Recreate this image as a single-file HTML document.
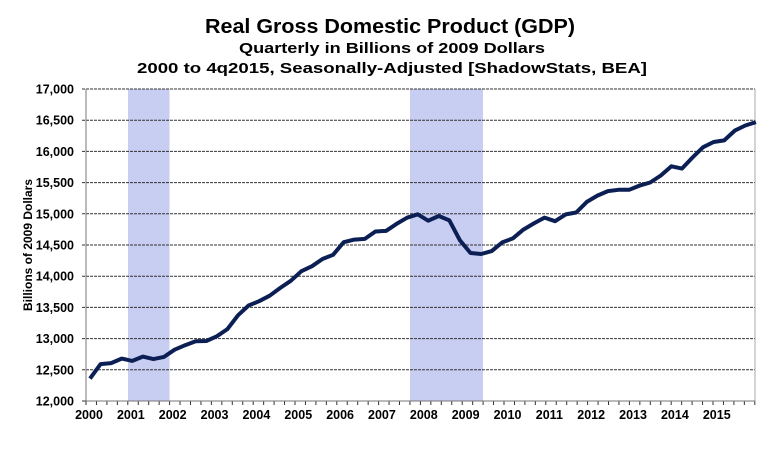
<!DOCTYPE html>
<html><head><meta charset="utf-8"><style>
body{margin:0;background:#fff;}
svg text{font-family:"Liberation Sans",Arial,sans-serif;font-weight:bold;fill:#000;}
</style></head><body>
<svg id="s" width="781" height="454" xmlns="http://www.w3.org/2000/svg">
<text x="390" y="33" font-size="20" text-anchor="middle" textLength="370" lengthAdjust="spacingAndGlyphs">Real Gross Domestic Product (GDP)</text>
<text x="392" y="53" font-size="15" text-anchor="middle" textLength="306" lengthAdjust="spacingAndGlyphs">Quarterly in Billions of 2009 Dollars</text>
<text x="392" y="73" font-size="15" text-anchor="middle" textLength="510" lengthAdjust="spacingAndGlyphs">2000 to 4q2015, Seasonally-Adjusted [ShadowStats, BEA]</text>
<rect x="128" y="89" width="41.5" height="312" fill="#c8cdf2"/>
<rect x="410" y="89" width="73" height="312" fill="#c8cdf2"/>
<g id="grid" stroke="#333" stroke-width="1"></g>
<line x1="86" y1="89" x2="86" y2="401" stroke="#777"/>
<line x1="755" y1="89" x2="755" y2="401" stroke="#aaa"/>
<line x1="86" y1="401" x2="755" y2="401" stroke="#777"/>
<g id="lab"></g>
<polyline id="pl" fill="none" stroke="#0c1f55" stroke-width="4" stroke-linejoin="round"/>
<text transform="translate(32,245) rotate(-90)" font-size="12" text-anchor="middle">Billions of 2009 Dollars</text>
</svg>
<script>
var v=[12359,12592,12607,12679,12643,12711,12671,12706,12822,12894,12956,12962,13037,13152,13373,13530,13599,13687,13812,13926,14080,14160,14275,14343,14545,14586,14597,14716,14726,14838,14938,14992,14889,14964,14895,14575,14372,14356,14402,14541,14605,14746,14846,14939,14882,14990,15021,15190,15291,15363,15384,15384,15452,15502,15614,15761,15725,15902,16068,16151,16177,16334,16415,16470];
function Y(a){return 401-(a-12000)/5000*312;}
var p=v.map(function(a,i){return (90+i*10.57).toFixed(1)+","+Y(a).toFixed(1)}).join(" ");
document.getElementById("pl").setAttribute("points",p);
var g=document.getElementById("grid"),l=document.getElementById("lab"),h="",t="";
for(var k=0;k<=10;k++){var val=12000+k*500,y=Y(val);
 if(k>0)h+='<line x1="82" y1="'+y+'" x2="755" y2="'+y+'" stroke-dasharray="3,1"/>';
 else h+='<line x1="82" y1="'+y+'" x2="86" y2="'+y+'"/>';
 t+='<text x="74" y="'+(y+4.5)+'" font-size="12.5" text-anchor="end">'+(val/1000).toFixed(3).replace(".",",")+'</text>';}
for(var i=0;i<=64;i++){var x=86+i*10.45;h+='<line x1="'+x+'" y1="401" x2="'+x+'" y2="405"/>';}
for(var yr=0;yr<16;yr++){var x=86+yr*41.85;t+='<text x="'+(x+3)+'" y="419" font-size="12.5" text-anchor="middle">'+(2000+yr)+'</text>';}
g.innerHTML=h;l.innerHTML=t;
</script>
</body></html>
